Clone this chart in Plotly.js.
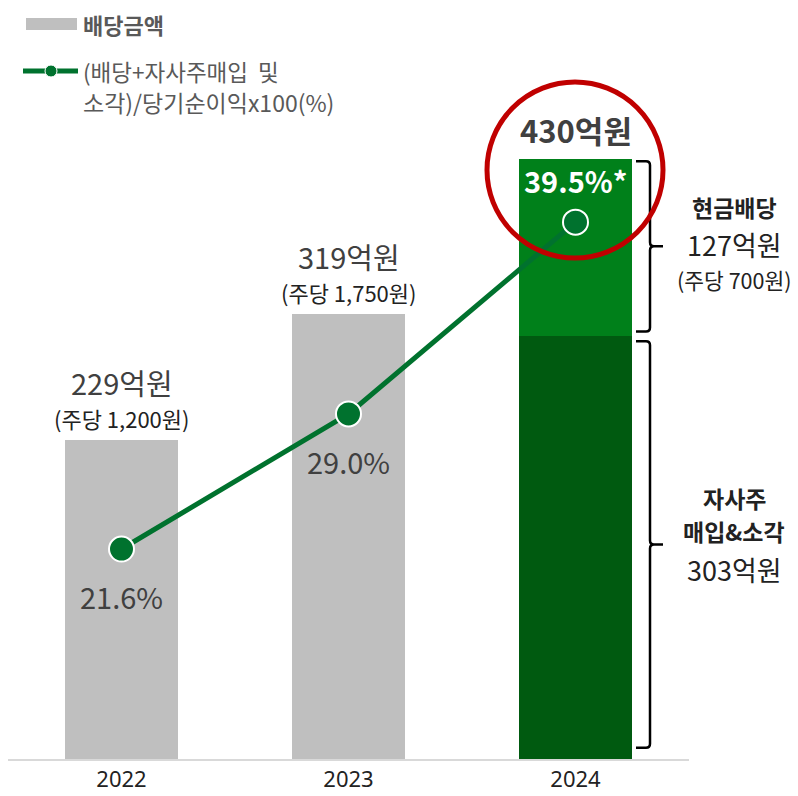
<!DOCTYPE html>
<html>
<head>
<meta charset="utf-8">
<script src="https://cdn.plot.ly/plotly-3.0.1.min.js"></script>
<style>
  html, body { margin: 0; padding: 0; background: #ffffff; }
  #chart { width: 798px; height: 796px; }
</style>
</head>
<body>
<div id="chart"></div>
<script>
// ---- data ----
const years = ['2022', '2023', '2024'];
const dividendAmount = [229, 319, null];      // 배당금액 (억원)
const buyback2024 = [null, null, 303];          // 자사주 매입&소각 (억원)
const cashDividend2024 = [null, null, 127];     // 현금배당 (억원)
const payoutRatio = [21.6, 29.0, 39.5];         // (배당+자사주매입 및 소각)/당기순이익x100(%)
const totalLabels = ['229억원', '319억원', '430억원'];
const perShareLabels = ['(주당 1,200원)', '(주당 1,750원)', ''];
const ratioLabels = ['21.6%', '29.0%', '39.5%*'];
const legendLabels = ['배당금액', '(배당+자사주매입\u00a0\u00a0및', '소각)/당기순이익x100(%)'];
const cashLabels = ['현금배당', '127억원', '(주당 700원)'];
const buybackLabels = ['자사주', '매입&소각', '303억원'];

// ---- layout constants ----
const W = 798, H = 796;
const M = { l: 8, r: 109, t: 100, b: 37 };
const plotW = W - M.l - M.r, plotH = H - M.t - M.b;
const yMax = 472.4;
const y2Range = [10.1, 46.19];
const pxPerUnit = plotH / yMax;

const KR = '"Noto Sans CJK KR", "Noto Sans", sans-serif';
const GREY = '#bfbfbf', GREEN = '#00801a', DARK = '#005a10', LINE = '#00722e';

const totals = years.map((_, i) => (dividendAmount[i] || 0) + (buyback2024[i] || 0) + (cashDividend2024[i] || 0));

const px2paperX = px => (px - M.l) / plotW;
const px2paperY = py => (H - M.b - py) / plotH;

const traces = [
  { type: 'bar', x: years, y: dividendAmount, marker: { color: GREY }, hoverinfo: 'skip', name: legendLabels[0] },
  { type: 'bar', x: years, y: buyback2024, marker: { color: DARK }, hoverinfo: 'skip', name: buybackLabels[2] },
  { type: 'bar', x: years, y: cashDividend2024, marker: { color: GREEN }, hoverinfo: 'skip', name: cashLabels[1] },
  { type: 'scatter', mode: 'lines+markers', x: years, y: payoutRatio, yaxis: 'y2',
    line: { color: LINE, width: 5 },
    marker: { size: 25, color: LINE, line: { color: '#ffffff', width: 2 } },
    hoverinfo: 'skip', name: 'ratio' }
];

const annotations = [];
years.forEach((yr, i) => {
  const isLast = i === years.length - 1;
  annotations.push({ x: i, y: totals[i], xref: 'x', yref: 'y', text: totalLabels[i],
    showarrow: false, xanchor: 'center', yanchor: 'middle', yshift: isLast ? 30 : 58,
    font: { family: KR, size: isLast ? 31 : 29, color: '#404040', weight: isLast ? 'bold' : 'normal' } });
  if (perShareLabels[i]) {
    annotations.push({ x: i, y: totals[i], xref: 'x', yref: 'y', text: perShareLabels[i],
      showarrow: false, xanchor: 'center', yanchor: 'middle', yshift: 22,
      font: { family: KR, size: 22, color: '#222222' } });
  }
  annotations.push({ x: i, y: payoutRatio[i], xref: 'x', yref: 'y2', text: ratioLabels[i],
    showarrow: false, xanchor: 'center', yanchor: 'middle', yshift: isLast ? 42 : -47,
    font: { family: KR, size: 29, color: isLast ? '#ffffff' : '#404040', weight: isLast ? 'bold' : 'normal' } });
});

// brace geometry (decorative)
const bx = { a: px2paperX(636), b: px2paperX(650), c: px2paperX(663) };
const rX = 4 / plotW, rY = 4 / pxPerUnit;
function bracePath(yTop, yBot) {
  const mid = (yTop + yBot) / 2;
  return `M${bx.a},${yTop} L${bx.b - rX},${yTop} Q${bx.b},${yTop} ${bx.b},${yTop - rY} ` +
         `L${bx.b},${mid + rY} Q${bx.b},${mid} ${bx.b + rX},${mid} L${bx.c},${mid} ` +
         `M${bx.b + rX},${mid} Q${bx.b},${mid} ${bx.b},${mid - rY} ` +
         `L${bx.b},${yBot + rY} Q${bx.b},${yBot} ${bx.b - rX},${yBot} L${bx.a},${yBot}`;
}
const last = years.length - 1;
const split = buyback2024[last];
const total24 = totals[last];
const topBrace = [total24 - 1.5, split + 3.5];
const botBrace = [split - 3.5, 8];
const topMid = (topBrace[0] + topBrace[1]) / 2;
const botMid = (botBrace[0] + botBrace[1]) / 2;
const textX = px2paperX(734);

const sideSpecs = [
  { text: cashLabels[0], mid: topMid, shift: 39, size: 23, bold: true },
  { text: cashLabels[1], mid: topMid, shift: 2, size: 27, bold: false },
  { text: cashLabels[2], mid: topMid, shift: -33, size: 21.5, bold: false },
  { text: buybackLabels[0], mid: botMid, shift: 47, size: 23, bold: true },
  { text: buybackLabels[1], mid: botMid, shift: 14, size: 23, bold: true },
  { text: buybackLabels[2], mid: botMid, shift: -25, size: 27, bold: false }
];
sideSpecs.forEach(s => {
  annotations.push({ x: textX, y: s.mid, xref: 'paper', yref: 'y', text: s.text, showarrow: false,
    xanchor: 'center', yanchor: 'middle', yshift: s.shift, borderpad: 0,
    font: { family: KR, size: s.size, color: '#222222', weight: s.bold ? 'bold' : 'normal' } });
});

// legend texts
const legX = px2paperX(81);
annotations.push({ x: legX, y: px2paperY(24), xref: 'paper', yref: 'paper', xanchor: 'left', yanchor: 'middle',
  text: legendLabels[0], showarrow: false, font: { family: KR, size: 22, color: '#595959', weight: 'bold' } });
annotations.push({ x: legX, y: px2paperY(71), xref: 'paper', yref: 'paper', xanchor: 'left', yanchor: 'middle',
  text: legendLabels[1], showarrow: false, font: { family: KR, size: 22.5, color: '#595959' } });
annotations.push({ x: legX, y: px2paperY(102), xref: 'paper', yref: 'paper', xanchor: 'left', yanchor: 'middle',
  text: legendLabels[2], showarrow: false, font: { family: KR, size: 23, color: '#595959' } });

const shapes = [
  // legend swatches
  { type: 'rect', xref: 'paper', yref: 'paper', x0: px2paperX(26), x1: px2paperX(77), y0: px2paperY(30), y1: px2paperY(18),
    fillcolor: GREY, line: { width: 0 } },
  { type: 'line', xref: 'paper', yref: 'paper', x0: px2paperX(23), x1: px2paperX(78), y0: px2paperY(71), y1: px2paperY(71),
    line: { color: LINE, width: 5 } },
  { type: 'circle', xref: 'paper', yref: 'paper', x0: px2paperX(45), x1: px2paperX(57), y0: px2paperY(77), y1: px2paperY(65),
    fillcolor: LINE, line: { color: '#ffffff', width: 1 } },
  // braces
  { type: 'path', xref: 'paper', yref: 'y', path: bracePath(topBrace[0], topBrace[1]), line: { color: '#000000', width: 2.5 } },
  { type: 'path', xref: 'paper', yref: 'y', path: bracePath(botBrace[0], botBrace[1]), line: { color: '#000000', width: 2.5 } },
  // highlight circle
  { type: 'circle', xref: 'paper', yref: 'paper', x0: px2paperX(487), x1: px2paperX(663), y0: px2paperY(258), y1: px2paperY(82),
    line: { color: '#c00000', width: 5 }, fillcolor: 'rgba(0,0,0,0)', layer: 'above' }
];

const layout = {
  width: W, height: H,
  margin: M,
  paper_bgcolor: '#ffffff', plot_bgcolor: '#ffffff',
  barmode: 'stack', bargap: 0.5,
  showlegend: false,
  xaxis: { type: 'category', range: [-0.5, 2.5], showline: true, linecolor: '#d9d9d9', linewidth: 2,
    ticks: '', showgrid: false, zeroline: false, fixedrange: true,
    tickfont: { family: '"Noto Sans", sans-serif', size: 22, color: '#222222' } },
  yaxis: { range: [0, yMax], visible: false, fixedrange: true },
  yaxis2: { range: y2Range, overlaying: 'y', visible: false, fixedrange: true },
  annotations: annotations,
  shapes: shapes
};

Plotly.newPlot('chart', traces, layout, { displayModeBar: false, staticPlot: true });
</script>
</body>
</html>
